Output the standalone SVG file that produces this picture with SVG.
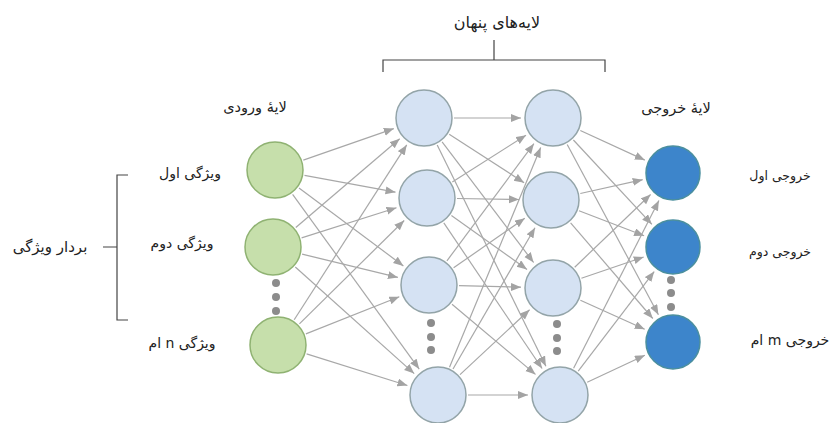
<svg xmlns="http://www.w3.org/2000/svg" width="838" height="423" viewBox="0 0 838 423">
<defs>
<marker id="ah" markerUnits="userSpaceOnUse" markerWidth="11" markerHeight="9" refX="10" refY="4" orient="auto">
<path d="M0,0 L10,4 L0,8 z" fill="#a3a3a3"/>
</marker>
<style>
.t{font-family:"DejaVu Sans",sans-serif;font-size:12px;fill:#222;text-anchor:middle;direction:rtl}
.c line{stroke:#a8a8a8;stroke-width:1.2;marker-end:url(#ah)}
.in{fill:#c6dfab;stroke:#8fb272;stroke-width:1.5}
.hd{fill:#d5e2f3;stroke:#93a4a8;stroke-width:1.5}
.out{fill:#3d85cb;stroke:#4b8f9e;stroke-width:1.5}
.dot{fill:#8c8c8c}
.br{fill:none;stroke:#444;stroke-width:1.2}
</style>
</defs>
<rect width="838" height="423" fill="#fff"/>
<g id="connectors" class="c">
<line x1="303.3" y1="160.1" x2="393.8" y2="128.6"/>
<line x1="304.5" y1="175.4" x2="395.5" y2="192.2"/>
<line x1="299" y1="187.9" x2="403.4" y2="265.9"/>
<line x1="292.6" y1="194.3" x2="419.2" y2="369.1"/>
<line x1="295.8" y1="227.5" x2="399.7" y2="138.8"/>
<line x1="301.6" y1="237.9" x2="396.5" y2="207.7"/>
<line x1="302.1" y1="254.1" x2="397.9" y2="277.4"/>
<line x1="295.3" y1="267" x2="414.2" y2="373.6"/>
<line x1="294.2" y1="319.8" x2="406.7" y2="144.9"/>
<line x1="299.4" y1="323.9" x2="404.2" y2="220.5"/>
<line x1="305.9" y1="333.9" x2="399.3" y2="296.8"/>
<line x1="306.6" y1="353.9" x2="407.4" y2="385.5"/>
<line x1="454" y1="118" x2="521" y2="118"/>
<line x1="449.2" y1="134.3" x2="524.1" y2="182.7"/>
<line x1="442.1" y1="141.9" x2="533.6" y2="262.5"/>
<line x1="437.2" y1="144.9" x2="545.9" y2="366.3"/>
<line x1="452.3" y1="181.9" x2="526" y2="135.2"/>
<line x1="457" y1="198.5" x2="519" y2="199.5"/>
<line x1="451.4" y1="215.4" x2="527" y2="269.4"/>
<line x1="443.8" y1="222.9" x2="542.1" y2="368.5"/>
<line x1="446.9" y1="260.9" x2="533.9" y2="143.7"/>
<line x1="453.6" y1="267.8" x2="524.8" y2="218.3"/>
<line x1="459" y1="285.7" x2="521" y2="287.2"/>
<line x1="452" y1="304.3" x2="535.5" y2="374.4"/>
<line x1="449.5" y1="367.3" x2="540.7" y2="147.6"/>
<line x1="453" y1="369" x2="535" y2="227.7"/>
<line x1="460" y1="374.6" x2="529.6" y2="309.8"/>
<line x1="468" y1="395" x2="528" y2="395"/>
<line x1="580.3" y1="130.5" x2="644.8" y2="160.1"/>
<line x1="573.4" y1="140" x2="651.9" y2="224.3"/>
<line x1="567.2" y1="144.5" x2="658.4" y2="314.7"/>
<line x1="580.3" y1="193.5" x2="642.7" y2="179.7"/>
<line x1="579" y1="210.8" x2="644.1" y2="235.8"/>
<line x1="570.6" y1="222.8" x2="652.8" y2="318.5"/>
<line x1="574.7" y1="267.2" x2="650.6" y2="194.5"/>
<line x1="581.4" y1="278.3" x2="643.7" y2="257"/>
<line x1="580.4" y1="300.3" x2="644.7" y2="329.3"/>
<line x1="573.6" y1="368.3" x2="658.9" y2="200.6"/>
<line x1="578.2" y1="371.2" x2="654.2" y2="271.6"/>
<line x1="587.2" y1="382.3" x2="644.9" y2="355.2"/>
</g>
<g id="input-layer">
<g id="in1"><circle class="in" cx="275" cy="170" r="28"/></g>
<g id="in2"><circle class="in" cx="273" cy="247" r="28"/></g>
<g id="in3"><circle class="in" cx="278" cy="345" r="28"/></g>
<g id="in-dots"><circle class="dot" cx="276" cy="283" r="4"/><circle class="dot" cx="276" cy="297" r="4"/><circle class="dot" cx="276" cy="311" r="4"/></g>
</g>
<g id="hidden1">
<g id="h1a"><circle class="hd" cx="424" cy="118" r="28"/></g>
<g id="h1b"><circle class="hd" cx="427" cy="198" r="28"/></g>
<g id="h1c"><circle class="hd" cx="429" cy="285" r="28"/></g>
<g id="h1d"><circle class="hd" cx="438" cy="395" r="28"/></g>
<g id="h1-dots"><circle class="dot" cx="431" cy="323" r="4"/><circle class="dot" cx="431" cy="337" r="4"/><circle class="dot" cx="431" cy="350" r="4"/></g>
</g>
<g id="hidden2">
<g id="h2a"><circle class="hd" cx="553" cy="118" r="28"/></g>
<g id="h2b"><circle class="hd" cx="551" cy="200" r="28"/></g>
<g id="h2c"><circle class="hd" cx="553" cy="288" r="28"/></g>
<g id="h2d"><circle class="hd" cx="560" cy="395" r="28"/></g>
<g id="h2-dots"><circle class="dot" cx="557" cy="324" r="4"/><circle class="dot" cx="557" cy="338" r="4"/><circle class="dot" cx="557" cy="351" r="4"/></g>
</g>
<g id="output-layer">
<g id="o1"><circle class="out" cx="673" cy="173" r="27"/></g>
<g id="o2"><circle class="out" cx="673" cy="247" r="27"/></g>
<g id="o3"><circle class="out" cx="673" cy="342" r="27"/></g>
<g id="out-dots"><circle class="dot" cx="671" cy="280" r="4"/><circle class="dot" cx="671" cy="293" r="4"/><circle class="dot" cx="671" cy="307" r="4"/></g>
</g>
<g id="hidden-brace">
<path class="br" d="M383,72 L383,60 L605,60 L605,72 M494,60 L494,40"/>
<text class="t" x="497" y="28" style="font-size:16px">لایه‌های پنهان</text>
</g>
<g id="feature-brace">
<path class="br" d="M128,175 L117,175 L117,320 L128,320 M117,247 L103,247"/>
<text class="t" x="50" y="252" style="font-size:15px">بردار ویژگی</text>
</g>
<g id="labels">
<text class="t" x="255" y="112" style="font-size:14.5px">لایهٔ ورودی</text>
<text class="t" x="676" y="113" style="font-size:14.5px">لایهٔ خروجی</text>
<text class="t" x="190" y="178" style="font-size:14px">ویژگی اول</text>
<text class="t" x="182" y="248" style="font-size:14px">ویژگی دوم</text>
<text class="t" x="182" y="348" style="font-size:14px">ویژگی n ام</text>
<text class="t" x="780" y="180" style="font-size:12.5px">خروجی اول</text>
<text class="t" x="780" y="256" style="font-size:12.5px">خروجی دوم</text>
<text class="t" x="790" y="345" style="font-size:14px">خروجی m ام</text>
</g>
</svg>
